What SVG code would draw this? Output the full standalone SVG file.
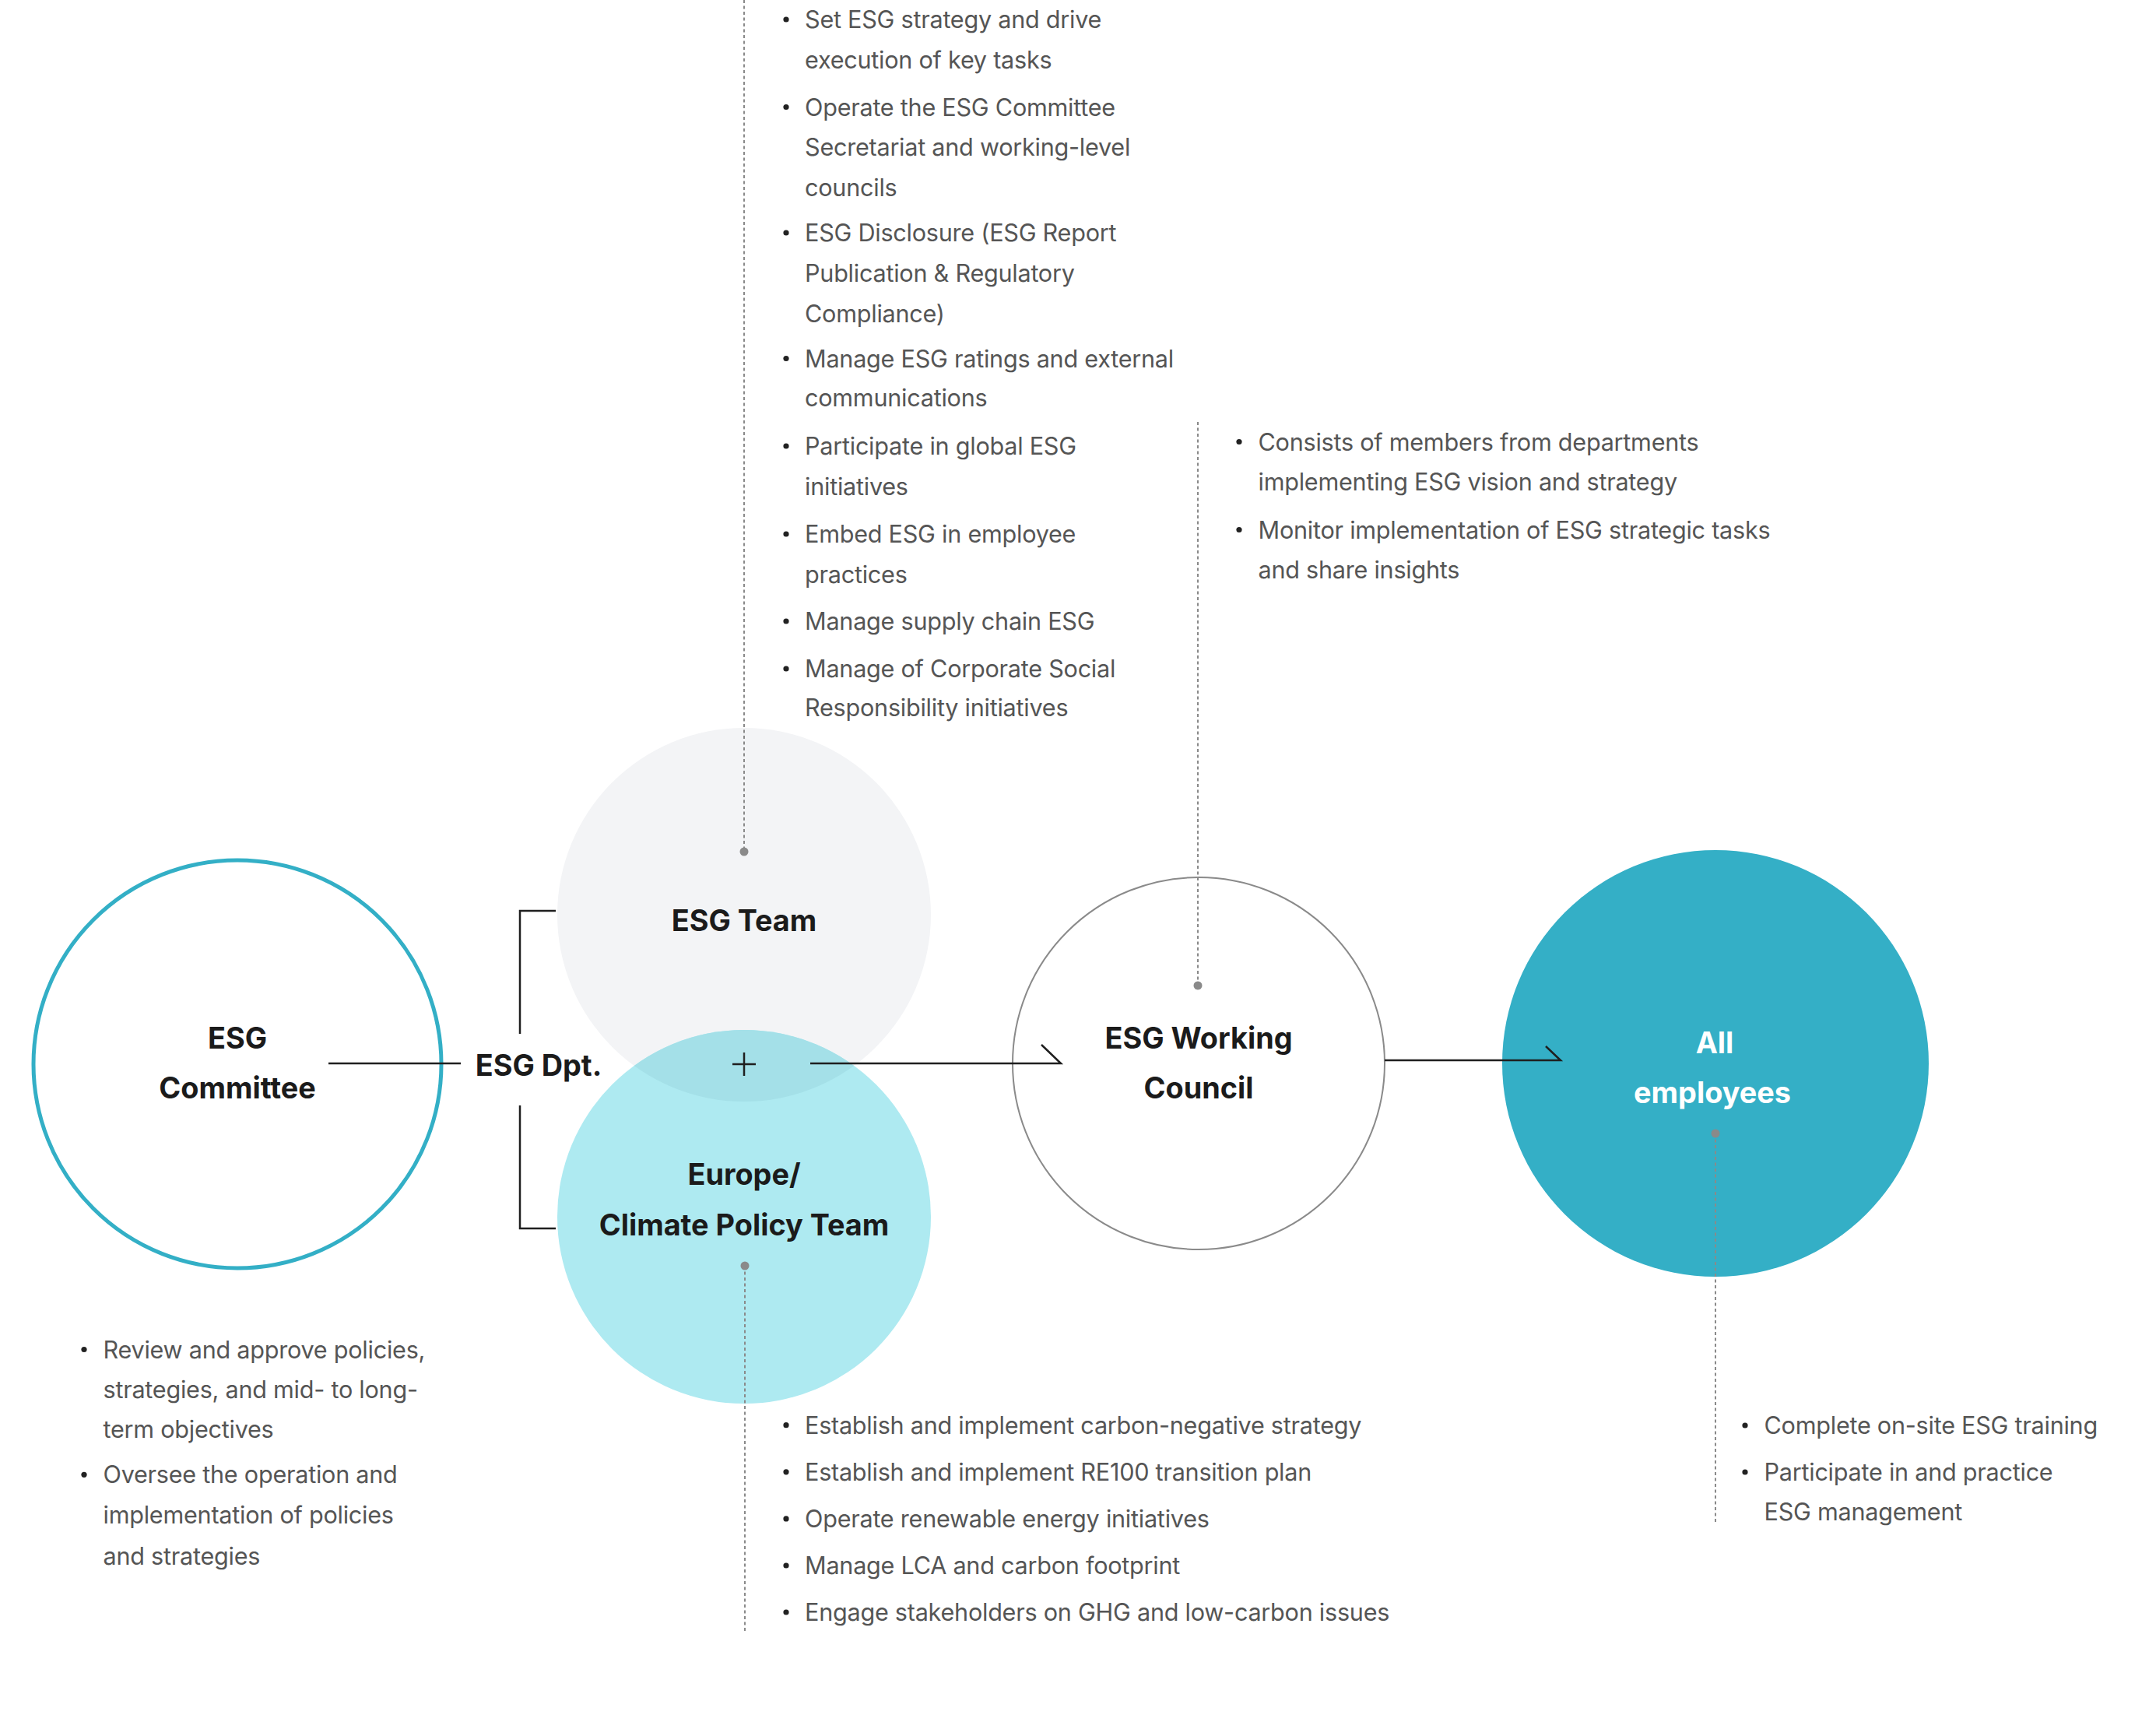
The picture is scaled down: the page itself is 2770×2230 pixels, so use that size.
<svg xmlns="http://www.w3.org/2000/svg" width="2770" height="2230" viewBox="0 0 2770 2230">
  <defs>
    <style>
      .title { font-family: Inter, "Noto Sans", "Liberation Sans", sans-serif; font-weight: 700; font-size: 37.8px; fill: #1b1b1b; text-anchor: middle; }
      .title-inv { fill: #ffffff; }
      .body { font-family: Inter, "Noto Sans", "Liberation Sans", sans-serif; font-weight: 400; font-size: 30.6px; letter-spacing: -0.25px; fill: #555555; }
      .bullet { fill: #222222; }
      .conn { stroke: #1f1f1f; stroke-width: 2.5; fill: none; stroke-linecap: butt; }
      .leader { stroke: #8a8a8a; stroke-width: 2; stroke-dasharray: 4 3.5; fill: none; }
      .pin { fill: #8a8a8a; }
    </style>
    <clipPath id="europeClip">
      <circle cx="956" cy="1563" r="240"/>
    </clipPath>
  </defs>

  <rect width="2770" height="2230" fill="#ffffff"/>

  <!-- ESG Committee -->
  <g id="node-esg-committee">
    <circle cx="305" cy="1367" r="262" fill="#ffffff" stroke="#33AFC6" stroke-width="5"/>
    <text class="title" x="305" y="1347">ESG</text>
    <text class="title" x="305" y="1411">Committee</text>
  </g>

  <!-- ESG Department label -->
  <g id="node-esg-dpt">
    <text class="title" x="692" y="1382">ESG Dpt.</text>
  </g>

  <!-- ESG Team -->
  <g id="node-esg-team">
    <circle cx="956" cy="1175" r="240" fill="#F3F4F6"/>
    <text class="title" x="956" y="1196">ESG Team</text>
  </g>

  <!-- Europe / Climate Policy Team, with the shared lens -->
  <g id="node-europe-team">
    <circle cx="956" cy="1563" r="240" fill="#AEEAF1"/>
    <circle cx="956" cy="1175" r="240" fill="#A4E0E8" clip-path="url(#europeClip)"/>
    <text class="title" x="956" y="1522">Europe/</text>
    <text class="title" x="956" y="1587">Climate Policy Team</text>
  </g>

  <!-- ESG Working Council -->
  <g id="node-working-council">
    <circle cx="1540" cy="1366" r="239" fill="#ffffff" stroke="#8a8a8a" stroke-width="2"/>
    <text class="title" x="1540" y="1347">ESG Working</text>
    <text class="title" x="1540" y="1411">Council</text>
  </g>

  <!-- All employees -->
  <g id="node-all-employees">
    <circle cx="2204" cy="1366" r="274" fill="#34AFC6"/>
    <text class="title title-inv" x="2203" y="1353">All</text>
    <text class="title title-inv" x="2200" y="1417">employees</text>
  </g>

  <!-- Connectors -->
  <g id="connectors">
    <line class="conn" x1="422" y1="1366" x2="592" y2="1366"/>
    <path class="conn" d="M714,1170 H668 V1328"/>
    <path class="conn" d="M668,1420 V1578 H714"/>
    <path class="conn" stroke-width="3" d="M941,1367 H971 M956,1352 V1382"/>
    <path class="conn" d="M1041,1366 H1363 L1338,1342"/>
    <path class="conn" d="M1779,1362 H2005 L1986,1344"/>
  </g>

  <!-- Dashed leaders to the description lists -->
  <g id="leaders">
    <line class="leader" x1="956" y1="0" x2="956" y2="1094"/>
    <circle class="pin" cx="956" cy="1094" r="5.5"/>
    <line class="leader" x1="1539" y1="542" x2="1539" y2="1266"/>
    <circle class="pin" cx="1539" cy="1266" r="5.5"/>
    <line class="leader" x1="957" y1="1626" x2="957" y2="2097"/>
    <circle class="pin" cx="957" cy="1626" r="5.5"/>
    <line class="leader" x1="2204" y1="1456" x2="2204" y2="1957"/>
    <circle class="pin" cx="2204" cy="1456" r="5.5"/>
  </g>

  <!-- ESG Team duties -->
  <g id="list-esg-team">
    <circle class="bullet" cx="1010" cy="25" r="3.6"/>
    <circle class="bullet" cx="1010" cy="137.5" r="3.6"/>
    <circle class="bullet" cx="1010" cy="299" r="3.6"/>
    <circle class="bullet" cx="1010" cy="460.5" r="3.6"/>
    <circle class="bullet" cx="1010" cy="573" r="3.6"/>
    <circle class="bullet" cx="1010" cy="686" r="3.6"/>
    <circle class="bullet" cx="1010" cy="798" r="3.6"/>
    <circle class="bullet" cx="1010" cy="859" r="3.6"/>
    <text class="body">
      <tspan x="1034" y="36">Set ESG strategy and drive</tspan>
      <tspan x="1034" y="88">execution of key tasks</tspan>
      <tspan x="1034" y="148.5">Operate the ESG Committee</tspan>
      <tspan x="1034" y="200">Secretariat and working-level</tspan>
      <tspan x="1034" y="251.5">councils</tspan>
      <tspan x="1034" y="310">ESG Disclosure (ESG Report</tspan>
      <tspan x="1034" y="362">Publication &amp; Regulatory</tspan>
      <tspan x="1034" y="414">Compliance)</tspan>
      <tspan x="1034" y="471.5">Manage ESG ratings and external</tspan>
      <tspan x="1034" y="522">communications</tspan>
      <tspan x="1034" y="584">Participate in global ESG</tspan>
      <tspan x="1034" y="636">initiatives</tspan>
      <tspan x="1034" y="697">Embed ESG in employee</tspan>
      <tspan x="1034" y="748.5">practices</tspan>
      <tspan x="1034" y="809">Manage supply chain ESG</tspan>
      <tspan x="1034" y="870">Manage of Corporate Social</tspan>
      <tspan x="1034" y="920">Responsibility initiatives</tspan>
    </text>
  </g>

  <!-- Working Council duties -->
  <g id="list-working-council">
    <circle class="bullet" cx="1592" cy="567.5" r="3.6"/>
    <circle class="bullet" cx="1592" cy="680.5" r="3.6"/>
    <text class="body">
      <tspan x="1616.5" y="578.6">Consists of members from departments</tspan>
      <tspan x="1616.5" y="629.8">implementing ESG vision and strategy</tspan>
      <tspan x="1616.5" y="691.6">Monitor implementation of ESG strategic tasks</tspan>
      <tspan x="1616.5" y="742.8">and share insights</tspan>
    </text>
  </g>

  <!-- ESG Committee duties -->
  <g id="list-esg-committee">
    <circle class="bullet" cx="108" cy="1733.5" r="3.6"/>
    <circle class="bullet" cx="108" cy="1894.3" r="3.6"/>
    <text class="body">
      <tspan x="132.5" y="1744.5">Review and approve policies,</tspan>
      <tspan x="132.5" y="1795.7">strategies, and mid- to long-</tspan>
      <tspan x="132.5" y="1846.9">term objectives</tspan>
      <tspan x="132.5" y="1905.3">Oversee the operation and</tspan>
      <tspan x="132.5" y="1956.5">implementation of policies</tspan>
      <tspan x="132.5" y="2009.5">and strategies</tspan>
    </text>
  </g>

  <!-- Europe / Climate Policy Team duties -->
  <g id="list-europe-team">
    <circle class="bullet" cx="1010" cy="1830.7" r="3.6"/>
    <circle class="bullet" cx="1010" cy="1890.8" r="3.6"/>
    <circle class="bullet" cx="1010" cy="1950.9" r="3.6"/>
    <circle class="bullet" cx="1010" cy="2011" r="3.6"/>
    <circle class="bullet" cx="1010" cy="2071" r="3.6"/>
    <text class="body">
      <tspan x="1034" y="1841.7">Establish and implement carbon-negative strategy</tspan>
      <tspan x="1034" y="1901.8">Establish and implement RE100 transition plan</tspan>
      <tspan x="1034" y="1961.9">Operate renewable energy initiatives</tspan>
      <tspan x="1034" y="2022">Manage LCA and carbon footprint</tspan>
      <tspan x="1034" y="2082">Engage stakeholders on GHG and low-carbon issues</tspan>
    </text>
  </g>

  <!-- All employees duties -->
  <g id="list-all-employees">
    <circle class="bullet" cx="2242" cy="1831" r="3.6"/>
    <circle class="bullet" cx="2242" cy="1891" r="3.6"/>
    <text class="body">
      <tspan x="2266.5" y="1842">Complete on-site ESG training</tspan>
      <tspan x="2266.5" y="1902">Participate in and practice</tspan>
      <tspan x="2266.5" y="1953">ESG management</tspan>
    </text>
  </g>
</svg>
